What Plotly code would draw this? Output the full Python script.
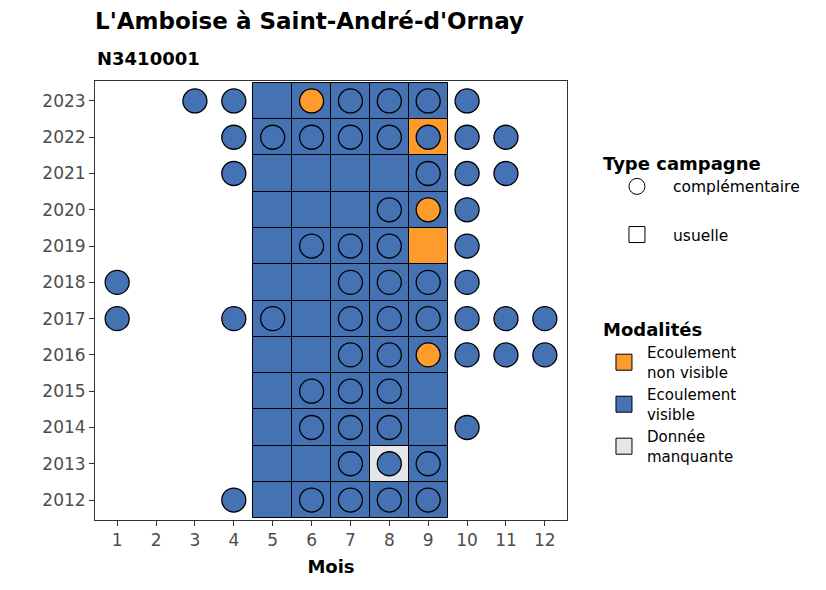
import plotly.graph_objects as go

# %%
years = list(range(2012, 2024))
months = list(range(1, 13))

# usual campaigns (tiles), months 5 to 9, one row per year
tile_year = [
    2023, 2023, 2023, 2023, 2023,
    2022, 2022, 2022, 2022, 2022,
    2021, 2021, 2021, 2021, 2021,
    2020, 2020, 2020, 2020, 2020,
    2019, 2019, 2019, 2019, 2019,
    2018, 2018, 2018, 2018, 2018,
    2017, 2017, 2017, 2017, 2017,
    2016, 2016, 2016, 2016, 2016,
    2015, 2015, 2015, 2015, 2015,
    2014, 2014, 2014, 2014, 2014,
    2013, 2013, 2013, 2013, 2013,
    2012, 2012, 2012, 2012, 2012,
]
tile_month = [5, 6, 7, 8, 9] * 12
tile_mod = [
    "V", "V", "V", "V", "V",     # 2023
    "V", "V", "V", "V", "NV",    # 2022
    "V", "V", "V", "V", "V",     # 2021
    "V", "V", "V", "V", "V",     # 2020
    "V", "V", "V", "V", "NV",    # 2019
    "V", "V", "V", "V", "V",     # 2018
    "V", "V", "V", "V", "V",     # 2017
    "V", "V", "V", "V", "V",     # 2016
    "V", "V", "V", "V", "V",     # 2015
    "V", "V", "V", "V", "V",     # 2014
    "V", "V", "V", "M", "V",     # 2013
    "V", "V", "V", "V", "V",     # 2012
]

# complementary campaigns (circles)
comp_year = (
    [2023] * 7 + [2022] * 8 + [2021] * 4 + [2020] * 3 + [2019] * 4
    + [2018] * 5 + [2017] * 9 + [2016] * 6 + [2015] * 3 + [2014] * 4
    + [2013] * 3 + [2012] * 5
)
comp_month = [
    3, 4, 6, 7, 8, 9, 10,            # 2023
    4, 5, 6, 7, 8, 9, 10, 11,        # 2022
    4, 9, 10, 11,                    # 2021
    8, 9, 10,                        # 2020
    6, 7, 8, 10,                     # 2019
    1, 7, 8, 9, 10,                  # 2018
    1, 4, 5, 7, 8, 9, 10, 11, 12,    # 2017
    7, 8, 9, 10, 11, 12,             # 2016
    6, 7, 8,                         # 2015
    6, 7, 8, 10,                     # 2014
    7, 8, 9,                         # 2013
    4, 6, 7, 8, 9,                   # 2012
]
comp_mod = [
    "V", "V", "NV", "V", "V", "V", "V",
    "V", "V", "V", "V", "V", "V", "V", "V",
    "V", "V", "V", "V",
    "V", "NV", "V",
    "V", "V", "V", "V",
    "V", "V", "V", "V", "V",
    "V", "V", "V", "V", "V", "V", "V", "V", "V",
    "V", "V", "NV", "V", "V", "V",
    "V", "V", "V",
    "V", "V", "V", "V",
    "V", "V", "V",
    "V", "V", "V", "V", "V",
]

modalites = ["NV", "V", "M"]
mod_labels = {
    "NV": "Ecoulement<br>non visible",
    "V": "Ecoulement<br>visible",
    "M": "Donnée<br>manquante",
}
colors = {"NV": "#FD9B2D", "V": "#4472B3", "M": "#E6E6E6"}

FONT = "DejaVu Sans, Liberation Sans, sans-serif"

# %%
fig = go.Figure()

# tiles: usual campaigns
for m in modalites:
    xs = [mo for mo, md in zip(tile_month, tile_mod) if md == m]
    ys = [y - 0.5 for y, md in zip(tile_year, tile_mod) if md == m]
    fig.add_trace(go.Bar(
        x=xs, y=[1] * len(xs), base=ys, width=1,
        marker=dict(color=colors[m], line=dict(color="black", width=1)),
        showlegend=False, hoverinfo="skip",
    ))

# circles: complementary campaigns
for m in modalites:
    xs = [mo for mo, md in zip(comp_month, comp_mod) if md == m]
    ys = [y for y, md in zip(comp_year, comp_mod) if md == m]
    if not xs:
        continue
    fig.add_trace(go.Scatter(
        x=xs, y=ys, mode="markers",
        marker=dict(symbol="circle", size=24, color=colors[m],
                    line=dict(color="black", width=1.3)),
        showlegend=False,
    ))

# legend keys: campaign type
fig.add_trace(go.Scatter(
    x=[None], y=[None], mode="markers", name="complémentaire",
    marker=dict(symbol="circle", size=16, color="white",
                line=dict(color="black", width=1)),
    legend="legend", legendgroup="comp",
))
fig.add_trace(go.Scatter(
    x=[None], y=[None], mode="markers", name="usuelle",
    marker=dict(symbol="square", size=16, color="white",
                line=dict(color="black", width=1)),
    legend="legend", legendgroup="usu",
))
# legend keys: modalities
for m in modalites:
    fig.add_trace(go.Scatter(
        x=[None], y=[None], mode="markers", name=mod_labels[m],
        marker=dict(symbol="square", size=16, color=colors[m],
                    line=dict(color="black", width=1)),
        legend="legend2",
    ))

axis_style = dict(
    showgrid=False, zeroline=False, automargin=False,
    showline=True, mirror=True, linecolor="#333333", linewidth=1,
    ticks="outside", ticklen=5, tickcolor="#333333",
    tickfont=dict(size=17, color="#4D4D4D"),
)

fig.update_layout(
    width=810, height=574,
    margin=dict(l=87, r=251, t=73, b=62),
    plot_bgcolor="white", paper_bgcolor="white",
    font=dict(family=FONT, color="black"),
    barmode="overlay", bargap=0,
    title=dict(
        text="<b>L'Amboise à Saint-André-d'Ornay</b>",
        font=dict(size=23, color="black"),
        x=0, xref="paper", xanchor="left",
        y=0.977, yref="container", yanchor="middle",
    ),
    annotations=[dict(
        text="<b>N3410001</b>", font=dict(size=18, color="black"),
        x=0, xref="paper", xanchor="left",
        y=1, yref="paper", yanchor="middle", yshift=23,
        showarrow=False,
    )],
    legend=dict(
        title=dict(text="<b>Type campagne</b>", font=dict(size=18)),
        font=dict(size=15.5), x=1.072, xanchor="left",
        y=0.851, yanchor="top", tracegroupgap=25, itemwidth=62,
    ),
    legend2=dict(
        title=dict(text="<b>Modalités</b>", font=dict(size=18)),
        font=dict(size=15), x=1.072, xanchor="left",
        y=0.472, yanchor="top", traceorder="normal", itemwidth=36,
    ),
)

fig.update_xaxes(
    range=[0.43, 12.57], tickvals=months,
    title=dict(text="<b>Mois</b>", font=dict(size=18, color="black"),
               standoff=10),
    **axis_style,
)
fig.update_yaxes(range=[2011.45, 2023.55], tickvals=years, **axis_style)

fig.write_html("out.html")
